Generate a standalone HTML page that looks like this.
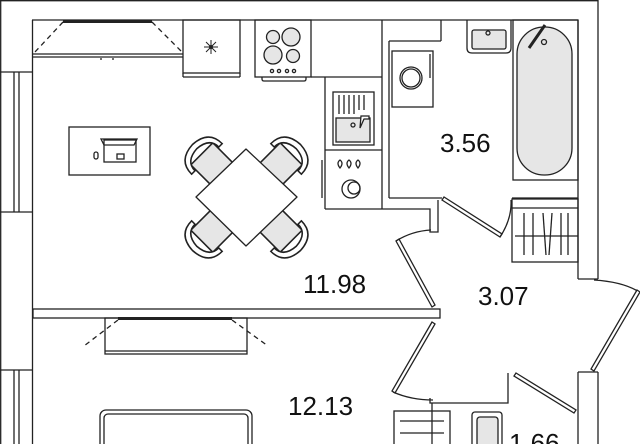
<!DOCTYPE html>
<html><head><meta charset="utf-8"><style>
html,body{margin:0;padding:0;background:#fff;}
svg{display:block}
text{font-family:"Liberation Sans",sans-serif;fill:#111}
</style></head><body>
<svg width="640" height="444" viewBox="0 0 640 444" xmlns="http://www.w3.org/2000/svg">
<defs>
<g id="chair">
<rect x="-13" y="-12" width="26" height="26" fill="#e6e6e6"/>
<path d="M-18 -6 Q-18 -22 0 -23 Q18 -22 18 -6 L14 -6 Q14 -17 0 -18 Q-14 -17 -14 -6 Z" fill="#fff"/>
</g>
</defs>
<g fill="none" stroke="#222" stroke-width="1.3">
<line x1="0" y1="0.7" x2="598" y2="0.7"/>
<line x1="0.7" y1="0" x2="0.7" y2="444"/>
<line x1="598" y1="0" x2="598" y2="279"/>
<line x1="32" y1="20" x2="578" y2="20"/>
<line x1="32.5" y1="20" x2="32.5" y2="444"/>
<line x1="0" y1="72" x2="32" y2="72"/>
<line x1="0" y1="212" x2="32" y2="212"/>
<line x1="0" y1="370" x2="32" y2="370"/>
<line x1="14" y1="72" x2="14" y2="212"/><line x1="19" y1="72" x2="19" y2="212"/>
<line x1="14" y1="370" x2="14" y2="444"/><line x1="19" y1="370" x2="19" y2="444"/>
<line x1="32" y1="54" x2="183" y2="54"/><line x1="32" y1="57" x2="183" y2="57"/>
<line x1="63" y1="21.5" x2="152" y2="21.5" stroke-width="3"/>
<line x1="63" y1="22" x2="35" y2="52" stroke-dasharray="5,4"/>
<line x1="152" y1="22" x2="182" y2="52" stroke-dasharray="5,4"/>
<line x1="101" y1="58" x2="101" y2="60"/><line x1="113" y1="58" x2="113" y2="60"/>
<rect x="183" y="20" width="57" height="53"/>
<line x1="183" y1="77" x2="240" y2="77"/><line x1="183" y1="73" x2="183" y2="77"/><line x1="240" y1="73" x2="240" y2="77"/>
<rect x="255" y="20" width="56" height="57"/>
<circle cx="273" cy="37" r="6.5" fill="#e6e6e6"/><circle cx="291" cy="37" r="9" fill="#e6e6e6"/>
<circle cx="273" cy="55" r="9" fill="#e6e6e6"/><circle cx="293" cy="56" r="6.5" fill="#e6e6e6"/>
<circle cx="272" cy="71" r="1.6"/><circle cx="279" cy="71" r="1.6"/><circle cx="287" cy="71" r="1.6"/><circle cx="294" cy="71" r="1.6"/>
<path d="M262 77 v2 q0 2 2 2 h40 q2 0 2 -2 v-2"/>
<line x1="311" y1="77" x2="382" y2="77"/>
<line x1="382" y1="20" x2="382" y2="209"/>
<line x1="325" y1="77" x2="325" y2="209"/><line x1="325" y1="209" x2="382" y2="209"/>
<line x1="325" y1="150" x2="382" y2="150"/>
<rect x="333" y="92" width="41" height="53"/>
<rect x="336" y="118" width="34" height="24" fill="#e6e6e6"/>
<line x1="339" y1="95" x2="339" y2="114"/><line x1="344" y1="95" x2="344" y2="114"/><line x1="349" y1="95" x2="349" y2="114"/><line x1="354" y1="95" x2="354" y2="114"/><line x1="359" y1="95" x2="359" y2="110"/><line x1="364" y1="95" x2="364" y2="110"/>
<circle cx="353" cy="125" r="2"/>
<path d="M360 128 l4 -9 h5 v-3 h-8 z" fill="#fff"/>
<circle cx="351" cy="189" r="9"/><circle cx="354" cy="188" r="6"/>
<path d="M340 168 q-4 -5 0 -8 q4 3 0 8z M349 168 q-4 -5 0 -8 q4 3 0 8z M358 168 q-4 -5 0 -8 q4 3 0 8z"/>
<line x1="322" y1="160" x2="322" y2="198"/>
<rect x="69" y="127" width="81" height="48"/>
<rect x="104" y="140" width="32" height="22"/>
<path d="M101 139 h36 l-3 6 h-30z"/>
<rect x="117" y="154" width="7" height="5"/>
<rect x="94" y="152" width="4" height="7" rx="2"/>
<use href="#chair" transform="translate(212,164) rotate(-45) scale(1.2)"/>
<use href="#chair" transform="translate(281,164) rotate(45) scale(1.2)"/>
<use href="#chair" transform="translate(212,231) rotate(-135) scale(1.2)"/>
<use href="#chair" transform="translate(281,231) rotate(135) scale(1.2)"/>
<path d="M246 149 L297 197 L246 246 L196 197Z" fill="#fff" stroke-linejoin="round"/>
<line x1="389" y1="41" x2="441" y2="41"/><line x1="441" y1="20" x2="441" y2="41"/>
<line x1="389" y1="41" x2="389" y2="198"/>
<line x1="389" y1="198" x2="442" y2="198"/>
<path d="M382 209 h48 v23 h8 v-32"/>
<line x1="512" y1="198" x2="578" y2="198"/>
<line x1="578" y1="20" x2="578" y2="279"/>
<line x1="578" y1="279" x2="598" y2="279"/>
<rect x="392" y="51" width="41" height="56"/>
<circle cx="411" cy="78" r="11"/><circle cx="411" cy="78" r="9"/>
<line x1="430" y1="54" x2="430" y2="78"/>
<path d="M467 20 v28 q0 5 5 5 h34 q5 0 5 -5 v-28"/>
<rect x="472" y="30" width="34" height="19" rx="2" fill="#e6e6e6"/>
<circle cx="488" cy="33" r="2"/>
<rect x="513" y="20" width="65" height="160"/>
<rect x="517" y="27" width="55" height="148" rx="27" fill="#e6e6e6"/>
<line x1="529" y1="48" x2="545" y2="25" stroke-width="3"/>
<circle cx="544" cy="42" r="2.5"/>
<path d="M442 200 l58 37 l2 -3 l-58 -37z" fill="#fff"/>
<path d="M500 237 q12 -18 11 -37"/>
<rect x="512" y="199" width="66" height="63"/>
<line x1="512" y1="208" x2="578" y2="208"/>
<line x1="515" y1="236" x2="578" y2="236"/>
<line x1="524" y1="213" x2="524" y2="255"/><line x1="533" y1="213" x2="533" y2="255"/><line x1="543" y1="213" x2="546" y2="255"/><line x1="552" y1="213" x2="549" y2="255"/><line x1="561" y1="213" x2="561" y2="255"/><line x1="568" y1="213" x2="568" y2="255"/>
<path d="M594 280 q30 2 45 12"/>
<path d="M637 290 l3 2 l-46 79 l-3 -2z" fill="#fff"/>
<line x1="578" y1="372" x2="578" y2="444"/><line x1="598" y1="372" x2="598" y2="444"/>
<line x1="578" y1="372" x2="598" y2="372"/>
<rect x="33" y="309" width="407" height="9"/>
<path d="M432 307 l-36 -66 l3 -2 l36 66z" fill="#fff"/>
<path d="M396 241 q16 -10 35 -11"/>
<path d="M432 322 l-40 69 l3 2 l40 -69z" fill="#fff"/>
<path d="M393 392 q18 8 40 8"/>
<path d="M430 398 v5 h78 v-30"/>
<path d="M516 373 l60 37 l-2 3 l-60 -37z" fill="#fff"/>
<rect x="394" y="411" width="56" height="40"/>
<line x1="432" y1="403" x2="432" y2="444"/>
<line x1="400" y1="421" x2="444" y2="421"/><line x1="400" y1="433" x2="444" y2="433"/>
<rect x="472" y="412" width="30" height="40" rx="3"/>
<rect x="477" y="417" width="21" height="35" rx="3" fill="#e6e6e6"/>
<rect x="105" y="318" width="142" height="36"/>
<line x1="105" y1="351" x2="247" y2="351"/>
<line x1="118" y1="318.5" x2="232" y2="318.5" stroke-width="3"/>
<line x1="118" y1="320" x2="84" y2="346" stroke-dasharray="5,4"/>
<line x1="232" y1="320" x2="268" y2="346" stroke-dasharray="5,4"/>
<rect x="100" y="410" width="152" height="50" rx="6"/>
<rect x="104" y="414" width="144" height="46" rx="4"/>
</g>
<g fill="#222"><circle cx="211" cy="47" r="2"/></g>
<g stroke="#222" stroke-width="1"><line x1="204" y1="47" x2="218" y2="47"/><line x1="211" y1="40" x2="211" y2="54"/><line x1="206" y1="42" x2="216" y2="52"/><line x1="216" y1="42" x2="206" y2="52"/></g>
<text x="440" y="152" font-size="26">3.56</text>
<text x="303" y="293" font-size="26">11.98</text>
<text x="478" y="305" font-size="26">3.07</text>
<text x="288" y="415" font-size="26">12.13</text>
<text x="509" y="452" font-size="26">1.66</text>
</svg>
</body></html>
